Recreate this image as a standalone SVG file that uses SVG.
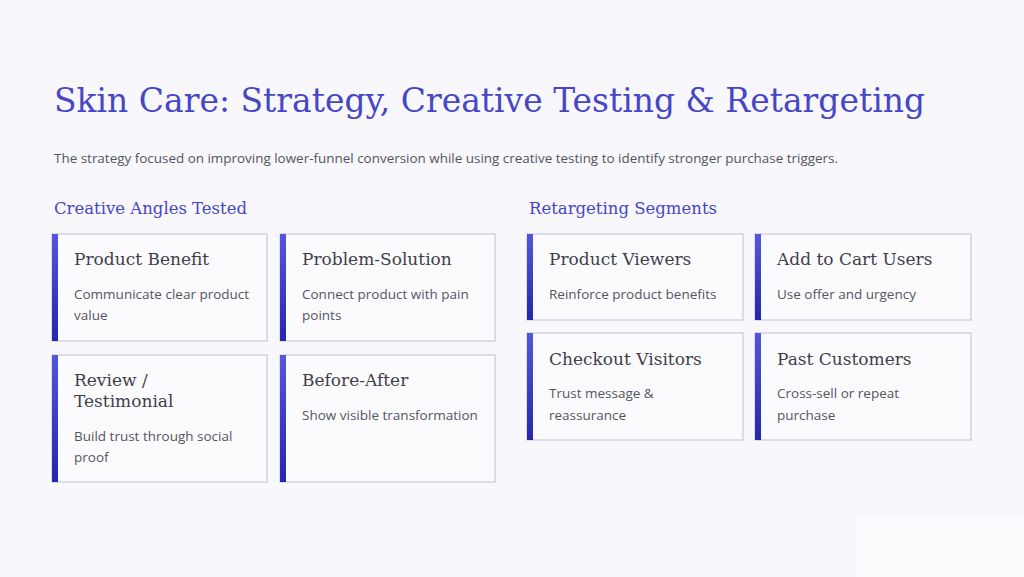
<svg xmlns="http://www.w3.org/2000/svg" width="1024" height="577" viewBox="0 0 1024 577">
<defs>
<linearGradient id="bar" x1="0" y1="0" x2="0" y2="1"><stop offset="0" stop-color="#5656dc"/><stop offset="1" stop-color="#2626ac"/></linearGradient>
<style>
.card{fill:#fbfbfe;stroke:#d3d3dc;stroke-width:1.5}
.h{font-family:"DejaVu Serif","Liberation Serif",serif;font-size:17px;fill:#3f3f4a}
.b{font-family:"Open Sans","Liberation Sans",sans-serif;font-size:13.5px;fill:#55555f}
.sec{font-family:"DejaVu Serif","Liberation Serif",serif;font-size:17px;fill:#4646c6}
</style>
</defs>
<rect width="1024" height="577" fill="#f7f7fc"/>
<rect x="856" y="517" width="168" height="60" fill="#fcfcff"/>
<text x="54" y="112" font-family="DejaVu Serif,Liberation Serif,serif" font-size="34" fill="#4646c6" textLength="871" lengthAdjust="spacingAndGlyphs">Skin Care: Strategy, Creative Testing &amp; Retargeting</text>
<text x="54" y="163" class="b" font-size="13" textLength="784" lengthAdjust="spacingAndGlyphs">The strategy focused on improving lower-funnel conversion while using creative testing to identify stronger purchase triggers.</text>
<text x="54" y="214" class="sec" textLength="193" lengthAdjust="spacingAndGlyphs">Creative Angles Tested</text>
<text x="529" y="214" class="sec" textLength="188" lengthAdjust="spacingAndGlyphs">Retargeting Segments</text>
<g id="n1"><rect class="card" x="52" y="234" width="215" height="107"/><rect x="52" y="234" width="6" height="107" fill="url(#bar)"/><text x="74" y="265" class="h">Product Benefit</text><text x="74" y="299" class="b">Communicate clear product</text><text x="74" y="320" class="b">value</text></g>
<g id="n2"><rect class="card" x="280" y="234" width="215" height="107"/><rect x="280" y="234" width="6" height="107" fill="url(#bar)"/><text x="302" y="265" class="h">Problem-Solution</text><text x="302" y="299" class="b">Connect product with pain</text><text x="302" y="320" class="b">points</text></g>
<g id="n3"><rect class="card" x="52" y="355" width="215" height="127"/><rect x="52" y="355" width="6" height="127" fill="url(#bar)"/><text x="74" y="386" class="h">Review /</text><text x="74" y="407" class="h">Testimonial</text><text x="74" y="441" class="b">Build trust through social</text><text x="74" y="462" class="b">proof</text></g>
<g id="n4"><rect class="card" x="280" y="355" width="215" height="127"/><rect x="280" y="355" width="6" height="127" fill="url(#bar)"/><text x="302" y="386" class="h">Before-After</text><text x="302" y="420" class="b">Show visible transformation</text></g>
<g id="n5"><rect class="card" x="527" y="234" width="216" height="86"/><rect x="527" y="234" width="6" height="86" fill="url(#bar)"/><text x="549" y="265" class="h">Product Viewers</text><text x="549" y="299" class="b">Reinforce product benefits</text></g>
<g id="n6"><rect class="card" x="755" y="234" width="216" height="86"/><rect x="755" y="234" width="6" height="86" fill="url(#bar)"/><text x="777" y="265" class="h">Add to Cart Users</text><text x="777" y="299" class="b">Use offer and urgency</text></g>
<g id="n7"><rect class="card" x="527" y="333" width="216" height="107"/><rect x="527" y="333" width="6" height="107" fill="url(#bar)"/><text x="549" y="365" class="h">Checkout Visitors</text><text x="549" y="398" class="b">Trust message &amp;</text><text x="549" y="420" class="b">reassurance</text></g>
<g id="n8"><rect class="card" x="755" y="333" width="216" height="107"/><rect x="755" y="333" width="6" height="107" fill="url(#bar)"/><text x="777" y="365" class="h">Past Customers</text><text x="777" y="398" class="b">Cross-sell or repeat</text><text x="777" y="420" class="b">purchase</text></g>
<g id="connectors"/>
</svg>
